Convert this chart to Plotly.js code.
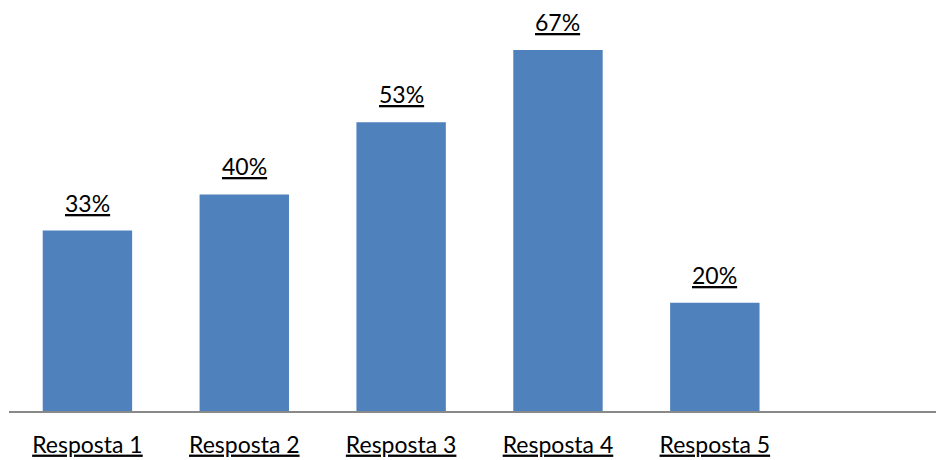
<!DOCTYPE html>
<html><head><meta charset="utf-8">
<script src="https://cdn.plot.ly/plotly-3.0.1.min.js"></script>
<style>html,body{margin:0;padding:0;background:#fff}</style>
</head><body>
<div id="chart" style="width:936px;height:460px"></div>
<script>
const categories = ["Resposta 1","Resposta 2","Resposta 3","Resposta 4","Resposta 5"];
const values = [33.33, 40.0, 53.33, 66.67, 20.0];
const labels = ["33%","40%","53%","67%","20%"];

const FONT = 'Lato, "Open Sans", sans-serif';
const xs = categories.map((c,i)=>i);
const trace = {
  type: 'bar',
  x: xs,
  y: values,
  marker: {color: '#4F81BD'},
  width: 0.57,
  hoverinfo: 'none'
};
const annotations = xs.map((x,i) => ({
  x: x, y: values[i], xref: 'x', yref: 'y',
  text: '<u>' + labels[i] + '</u>',
  showarrow: false, yanchor: 'bottom', yshift: 12,
  font: {family: FONT, size: 23, color: '#000'}
}));
const layout = {
  width: 936, height: 460,
  margin: {l: 9, r: 0, t: 20, b: 49},
  paper_bgcolor: '#fff', plot_bgcolor: '#fff',
  showlegend: false,
  annotations: annotations,
  xaxis: {
    range: [-0.5, 5.41],
    tickmode: 'array',
    tickvals: xs,
    ticktext: categories.map(c => '<u>' + c + '</u>'),
    showline: true, linecolor: '#898989', linewidth: 2,
    showgrid: false, zeroline: false,
    ticks: '', ticklabelstandoff: 12,
    tickfont: {family: FONT, size: 23, color: '#000'}
  },
  yaxis: {
    range: [0, 72.2], visible: false, showgrid: false, zeroline: false
  }
};
Plotly.newPlot('chart', [trace], layout, {displayModeBar: false, staticPlot: true});
</script>
</body></html>
